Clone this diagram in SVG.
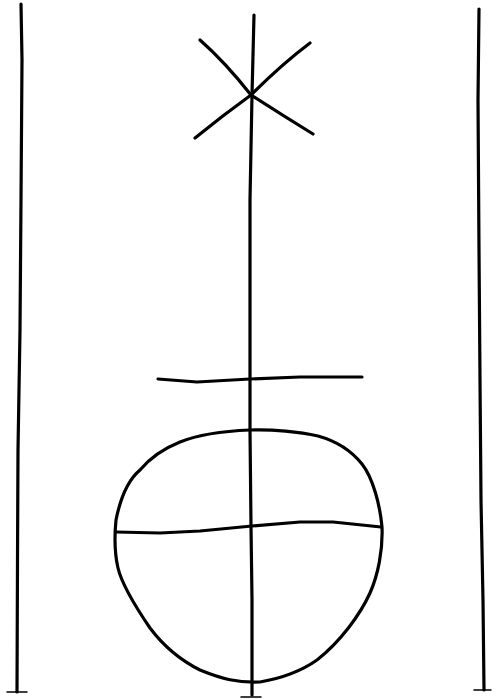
<svg xmlns="http://www.w3.org/2000/svg" width="497" height="700" viewBox="0 0 497 700">
<style>
.s{fill:none;stroke:#000;stroke-width:3.2;stroke-linecap:round;stroke-linejoin:round}
.t{fill:none;stroke:#000;stroke-width:1.5;stroke-linecap:round}
</style>
<rect width="497" height="700" fill="#fff"/>
<g id="left-rule">
<path class="s" d="M21,4 L22,60 L21,200 L20,330 L18,450 L17.5,560 L17,692"/>
<path class="t" d="M7,692 L27,692"/>
</g>
<g id="right-rule">
<path class="s" d="M479,9 L478,100 L479,250 L480,380 L481,500 L483,600 L484,690"/>
<path class="t" d="M474,690 L491,690"/>
</g>
<g id="axis">
<path class="s" d="M254,15 L252,95 L250,200 L250,380 L250,430 L251,526 L252,600 L252,695"/>
<path class="t" d="M241,697 L261,697"/>
</g>
<g id="star">
<path class="s" d="M200,40 Q225,62 251,95 Q282,115 313,134"/>
<path class="s" d="M310,43 Q282,64 251,95 Q222,116 195,138"/>
</g>
<g id="bar">
<path class="s" d="M158,379 L197,382 L250,379 L300,377 L362,377"/>
</g>
<g id="orb">
<path class="s" d="M250,430 C272,429 300,432 318,436 C336,441 350,449 362,464 C373,478 380,505 382,527 C383,550 378,575 370,593 C360,615 340,642 317,660 C300,672 283,678 260,682 C238,683 222,679 200,670 C180,660 165,648 150,628 C135,606 122,585 118,568 C115,555 114,540 116,520 C120,500 128,480 140,470 C150,458 165,448 180,442 C200,434 225,431 250,430 Z"/>
<path class="s" d="M116,532 L160,533 L200,531 L252,526 L300,522 L333,522 L381,527"/>
</g>
</svg>
